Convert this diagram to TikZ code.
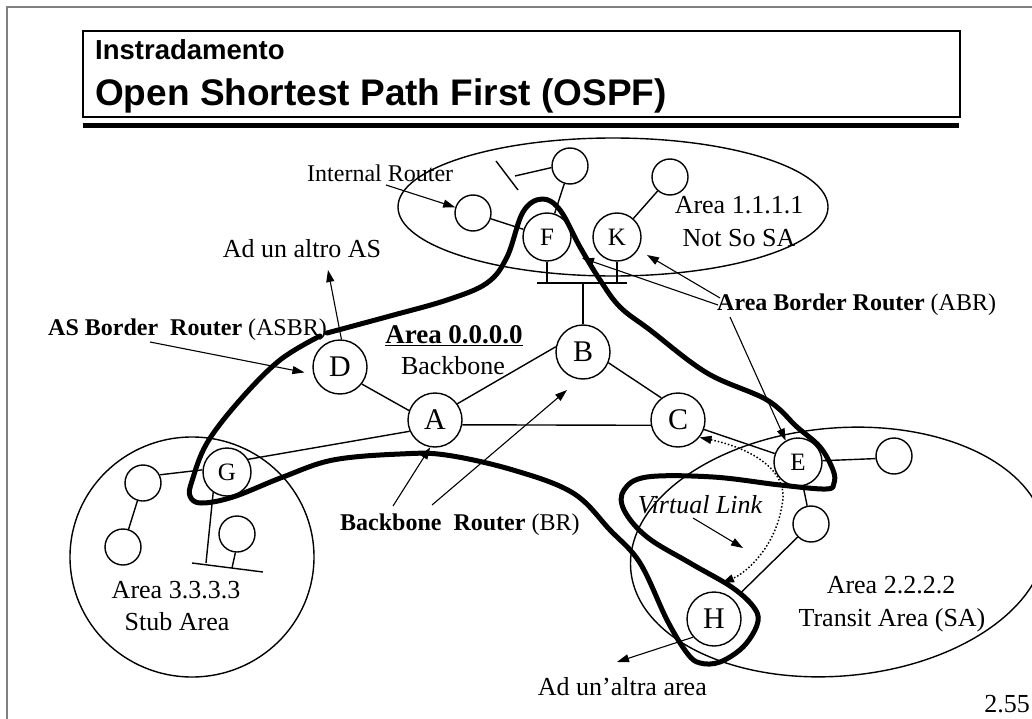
\documentclass[tikz,border=0pt]{standalone}
\usepackage{fontspec}
\setmainfont{Liberation Serif}
\newfontfamily\headfont{Liberation Sans}
\usetikzlibrary{arrows.meta}
\begin{document}
\begin{tikzpicture}[x=1pt,y=-1pt,
  router/.style={circle, draw, line width=1.4pt, minimum size=54pt, inner sep=0pt, font=\fontsize{30}{30}\selectfont},
  border/.style={circle, draw, line width=1.4pt, minimum size=48pt, inner sep=0pt, font=\fontsize{25}{25}\selectfont},
  host/.style={circle, draw, line width=1.4pt, minimum size=36pt, inner sep=0pt},
  link/.style={line width=1.4pt},
  pointer/.style={line width=1.1pt, -{Triangle[length=12pt,width=8pt]}},
  vlink/.style={line width=1.5pt, dash pattern=on 1.5pt off 2pt, {Triangle[length=12pt,width=8pt]}-{Triangle[length=12pt,width=8pt]}},
  area/.style={line width=1.4pt},
  hull/.style={line width=5pt, line join=round, line cap=round},
  txt/.style={font=\fontsize{26}{26}\selectfont, inner sep=0pt},
  small/.style={font=\fontsize{24}{24}\selectfont, inner sep=0pt}]
\useasboundingbox (0,0) rectangle (1032,719);

% page frame
\draw[gray, line width=1.5pt] (7,719) -- (7,7) -- (1032,7);

% heading
\draw[line width=2pt] (83,31) rectangle (960,117);
\fill (83,123) rectangle (959,128);
\node[anchor=base west, inner sep=0pt, font=\headfont\bfseries\fontsize{27.5}{27.5}\selectfont] (sup) at (95,60) {Instradamento};
\node[anchor=base west, inner sep=0pt, font=\headfont\bfseries\fontsize{37}{37}\selectfont] (ttl) at (95,106) {Open Shortest Path First (OSPF)};

% areas
\draw[area] (613,207) ellipse [x radius=215, y radius=69];
\draw[area] (192,557) ellipse [x radius=122, y radius=120];
\draw[area, rotate around={5:(838,552)}] (838,552) ellipse [x radius=208, y radius=124];

% routers
\node[router] (A) at (435,420) {A};
\node[router] (B) at (583,352) {B};
\node[router] (C) at (678,420) {C};
\node[router] (D) at (340,367) {D};
\node[router] (H) at (714,619) {H};
\node[border] (F) at (547,237) {F};
\node[border] (K) at (617,237) {K};
\node[border] (E) at (798,462) {E};
\node[border] (G) at (227,472) {G};
\node[host] (IR) at (473,213) {};
\node[host] (T1) at (570,166) {};
\node[host] (T2) at (670,177) {};
\node[host] (R1) at (894,456) {};
\node[host] (R2) at (811,524) {};
\node[host] (L1) at (143,483) {};
\node[host] (L2) at (123,547) {};
\node[host] (L3) at (237,534) {};

% backbone links
\draw[link] (D.-38) -- (A.160);
\draw[link] (A.36) -- (B.169);
\draw[link] (A.-10) -- (C.191);
\draw[link] (B.-23) -- (C.127);
\draw[link] (A.204) -- (G.31);
\draw[link] (C.-20) -- (E.160);

% area 1.1.1.1 links
\draw[link] (IR) -- (F);
\draw[link] (T1) -- (F);
\draw[link] (T2) -- (K);
\coordinate (s1) at (496,161);
\coordinate (s2) at (518,190);
\coordinate (s3) at (515,176);
\draw[link] (s1) -- (s2);
\draw[link] (T1.185) -- (s3);
\coordinate (busL) at (537,283);
\coordinate (busR) at (627,283);
\draw[line width=2pt] (busL) -- (busR);
\draw[link] (F.south) -- (F.south |- busL);
\draw[link] (K.south) -- (K.south |- busL);
\draw[link] (B.north) -- (B.north |- busL);

% area 2.2.2.2 links
\draw[link] (E.3) -- (R1.188);
\draw[link] (E) -- (R2);
\draw[link, shorten >=10pt] (R2) -- (H);

% area 3.3.3.3 links
\draw[link] (L1.26) -- (G.175);
\draw[link] (L1) -- (L2);
\coordinate (gb) at (206,563);
\coordinate (lbL) at (192,563);
\coordinate (lbR) at (263,572);
\draw[link] (G.236) -- (gb);
\draw[link] (lbL) -- (lbR);
\draw[link] (L3.265) -- (232,568);

% backbone boundary
\draw[hull] plot[smooth, tension=0.6] coordinates {
  (327,333) (390,316) (447,300) (487,283) (507,257) (523,212) (542,199)
  (560,210) (580,247) (600,280) (620,307) (650,330) (707,373) (767,400)
  (797,427) (820,447) (833,470) (834,483) (826,489) (780,485) (713,477)
  (647,477) (624,490) (624,510) (647,537) (690,563) (733,588) (755,609)
  (757,625) (743,647) (720,662) (700,663) (687,653) (667,620) (640,563)
  (610,530) (573,493) (513,470) (446,455) (400,454) (333,460) (283,477)
  (233,497) (201,503) (190,496) (192,481) (207,443) (240,400) (280,360)
  (320,336)};

% labels
\node[small, anchor=base west] (lIR) at (307,182) {Internal Router};
\node[txt, anchor=base] (lAS) at (302,258) {Ad un altro AS};
\node[small, anchor=base west] (lASBR) at (48,335) {\textbf{AS Border~~Router} (ASBR)};
\node[inner sep=0pt, anchor=base, font=\bfseries\fontsize{27}{27}\selectfont] (lA0) at (454,343) {\underline{Area 0.0.0.0}};
\node[txt, anchor=base] (lBB) at (453,374) {Backbone};
\node[small, anchor=base west] (lBR) at (340,530) {\textbf{Backbone~~Router} (BR)};
\node[small, anchor=base west] (lABR) at (717,310) {\textbf{Area Border Router} (ABR)};
\node[txt, anchor=base] (lA1) at (739,214) {Area 1.1.1.1};
\node[txt, anchor=base] (lA1b) at (739,246) {Not So SA};
\node[txt, anchor=base, font=\itshape\fontsize{26}{26}\selectfont] (lVL) at (700,513) {Virtual Link};
\node[txt, anchor=base] (lA2) at (891,593) {Area 2.2.2.2};
\node[txt, anchor=base] (lA2b) at (892,626) {Transit Area (SA)};
\node[txt, anchor=base] (lA3) at (176,598) {Area 3.3.3.3};
\node[txt, anchor=base] (lA3b) at (177,630) {Stub Area};
\node[txt, anchor=base east] (lOut) at (707,695) {Ad un’altra area};
\node[txt, anchor=base east] (pg) at (1030,712) {2.55};

% pointers
\coordinate (irT) at (386,185);
\draw[pointer] (irT) -- (IR);
\coordinate (asTip) at (328,270);
\draw[pointer] (D.87) -- (asTip);
\coordinate (asbrT) at (150,342);
\draw[pointer, shorten >=9pt] (asbrT) -- (D.195);
\coordinate (br1T) at (393,506);
\draw[pointer] (br1T) -- (A.260);
\coordinate (br2T) at (432,505);
\coordinate (br2H) at (567,390);
\draw[pointer] (br2T) -- (br2H);
\coordinate (abr1T) at (720,298);
\coordinate (abr1H) at (647,255);
\draw[pointer] (abr1T) -- (abr1H);
\coordinate (abr2T) at (718,305);
\coordinate (abr2H) at (582,258);
\draw[pointer] (abr2T) -- (abr2H);
\coordinate (abr3T) at (730,317);
\draw[pointer] (abr3T) -- (E.120);
\coordinate (vlT) at (693,518);
\coordinate (vlH) at (743,548);
\draw[pointer] (vlT) -- (vlH);
\coordinate (outH) at (617,662);
\draw[pointer] (H.221) -- (outH);

% virtual link between C and H through area 2.2.2.2
\coordinate (vH) at (722,583);
\draw[vlink] (C.-39) .. controls (750,448) and (790,470) .. (782,505)
  .. controls (776,545) and (748,572) .. (vH);
\end{tikzpicture}
\end{document}
